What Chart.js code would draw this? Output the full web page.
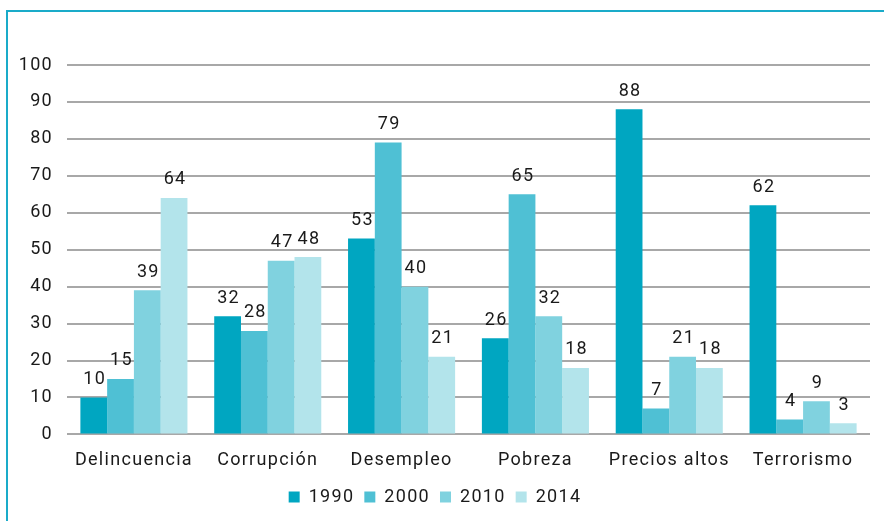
<!DOCTYPE html>
<html>
<head>
<meta charset="utf-8">
<script src="https://cdn.jsdelivr.net/npm/chart.js@4"></script>
<style>
  html, body { margin: 0; padding: 0; background: #fff; overflow: hidden; }
  #frame {
    position: absolute; left: 6px; top: 10px; width: 900px; height: 530px;
    border-left: 2px solid #1aabc9; border-top: 2px solid #1aabc9;
  }
  #wrap { position: absolute; left: 0; top: 0; width: 884px; height: 521px; }
</style>
</head>
<body>
<div id="frame"></div>
<div id="wrap"><canvas id="chart"></canvas></div>
<script>
// Categories and values
const categories = ['Delincuencia', 'Corrupción', 'Desempleo', 'Pobreza', 'Precios altos', 'Terrorismo'];
const years = ['1990', '2000', '2010', '2014'];
const values1990 = [10, 32, 53, 26, 88, 62];
const values2000 = [15, 28, 79, 65, 7, 4];
const values2010 = [39, 47, 40, 32, 21, 9];
const values2014 = [64, 48, 21, 18, 18, 3];
const colors = ['#00a6c1', '#4fc0d4', '#80d2df', '#b3e4eb'];

const FONT = 'Roboto, "Liberation Sans", sans-serif';
const SPACING = '1.3px';

// the original type is a wide grotesque, so loosen the letters a bit
const wideText = {
    id: 'wideText',
    beforeLayout(chart) { chart.ctx.letterSpacing = SPACING; },
    beforeDraw(chart) { chart.ctx.letterSpacing = SPACING; }
};

// simple value labels above each bar
const barLabels = {
    id: 'barLabels',
    afterDatasetsDraw(chart) {
        const ctx = chart.ctx;
        ctx.save();
        ctx.letterSpacing = SPACING;
        ctx.font = '18px ' + FONT;
        ctx.fillStyle = '#1a1a1a';
        ctx.textAlign = 'center';
        ctx.textBaseline = 'bottom';
        chart.data.datasets.forEach((ds, i) => {
            chart.getDatasetMeta(i).data.forEach((bar, j) => {
                ctx.fillText(ds.data[j], bar.x + 1, bar.y - 9);
            });
        });
        ctx.restore();
    }
};

function initChart() {
    const ctx = document.getElementById('chart').getContext('2d');
    const allValues = [values1990, values2000, values2010, values2014];
    new Chart(ctx, {
        type: 'bar',
        data: {
            labels: categories,
            datasets: years.map((y, i) => ({
                label: y,
                data: allValues[i],
                backgroundColor: colors[i],
                borderWidth: 0,
                categoryPercentage: 0.8,
                barPercentage: 1.0
            }))
        },
        options: {
            responsive: true,
            maintainAspectRatio: false,
            animation: false,
            layout: { padding: { left: 0, right: 14, top: 65, bottom: 5 } },
            plugins: {
                legend: {
                    position: 'bottom',
                    labels: {
                        boxWidth: 11, boxHeight: 11, padding: 10,
                        color: '#1a1a1a',
                        font: { family: FONT, size: 18 }
                    }
                },
                tooltip: { enabled: false }
            },
            scales: {
                x: {
                    grid: { display: false },
                    border: { display: false },
                    ticks: { color: '#1a1a1a', font: { family: FONT, size: 18 }, padding: 7 }
                },
                y: {
                    min: 0, max: 100,
                    afterFit(scale) { scale.width = 67; },
                    ticks: { stepSize: 10, color: '#1a1a1a', font: { family: FONT, size: 18 }, padding: 14 },
                    grid: { color: '#a8a8a8', lineWidth: 2, drawTicks: false },
                    border: { display: false }
                }
            }
        },
        plugins: [wideText, barLabels]
    });
}

document.addEventListener('DOMContentLoaded', initChart);
</script>
</body>
</html>
